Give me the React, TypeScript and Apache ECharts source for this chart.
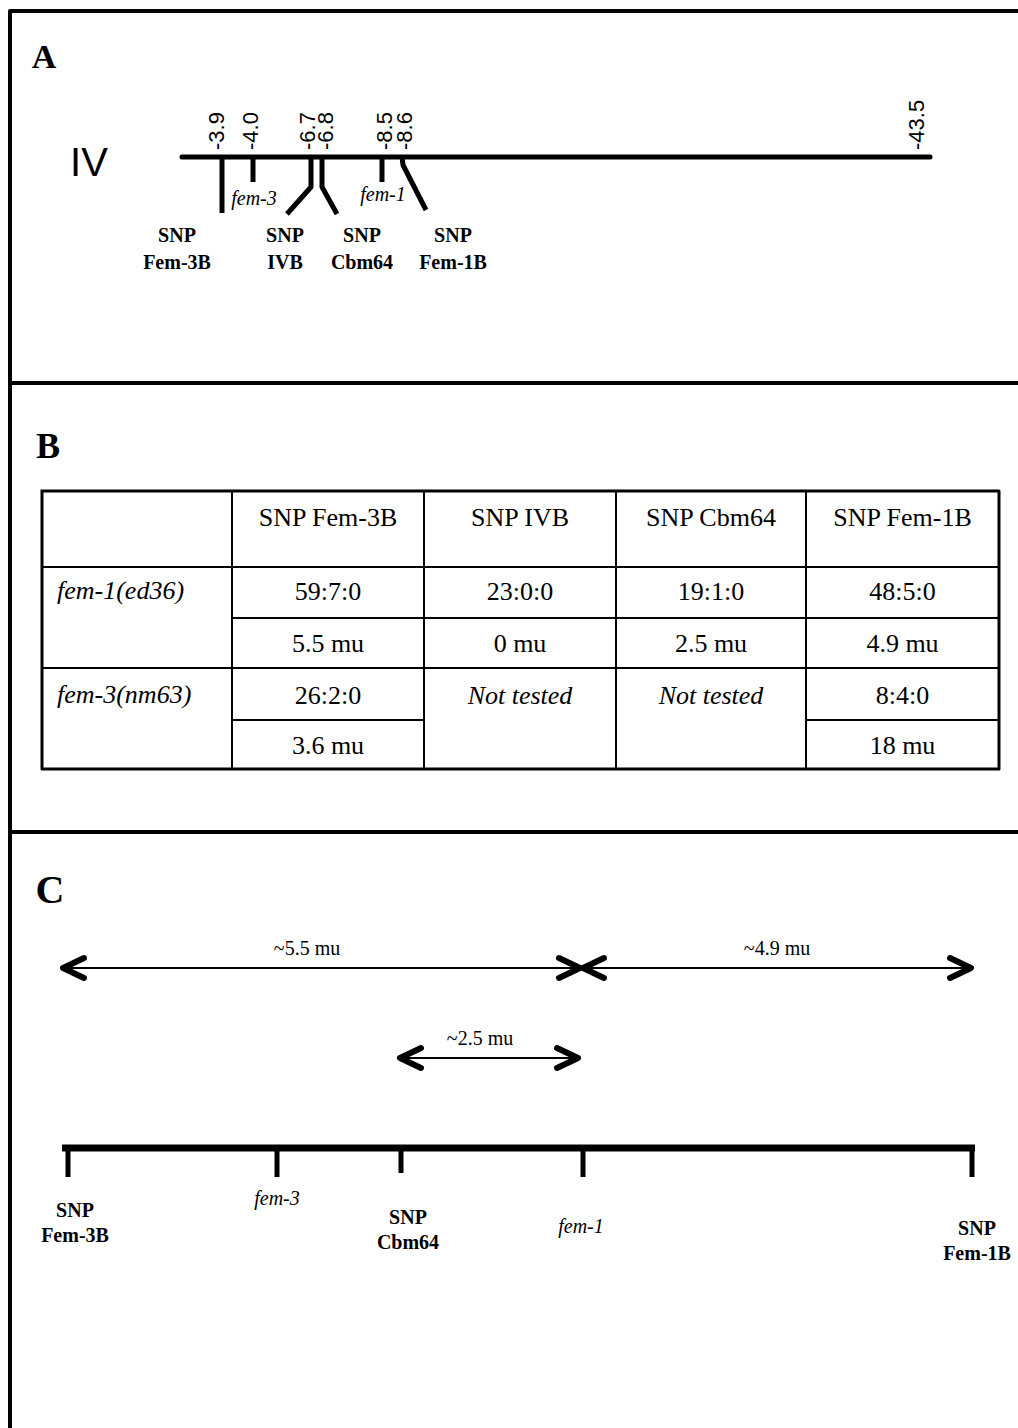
import React, { useEffect, useRef } from "react";
import * as echarts from "echarts";

// ---------------- data ----------------
const chromosomeName = "IV";
const mapPositionLabels = ["-3.9", "-4.0", "-6.7", "-6.8", "-8.5", "-8.6", "-43.5"];
const panelAMarkerNames = ["SNP\nFem-3B", "fem-3", "SNP\nIVB", "SNP\nCbm64", "fem-1", "SNP\nFem-1B"];
const panelAMarkerIsGene = [false, true, false, false, true, false];

const tableHeaders = ["SNP Fem-3B", "SNP IVB", "SNP Cbm64", "SNP Fem-1B"];
const tableRowLabels = ["fem-1(ed36)", "fem-3(nm63)"];
const fem1Ratios = ["59:7:0", "23:0:0", "19:1:0", "48:5:0"];
const fem1Distances = ["5.5 mu", "0 mu", "2.5 mu", "4.9 mu"];
const fem3Ratios = ["26:2:0", "Not tested", "Not tested", "8:4:0"];
const fem3Distances = ["3.6 mu", "", "", "18 mu"];

const intervalLabels = ["~5.5 mu", "~4.9 mu", "~2.5 mu"];
const panelCNames = ["SNP\nFem-3B", "fem-3", "SNP\nCbm64", "fem-1", "SNP\nFem-1B"];
const panelCIsGene = [false, true, false, true, false];

// ---------------- layout (schematic drawing units) ----------------
const W = 1018;
const H = 1428;
const SERIF = "'Liberation Serif', 'Times New Roman', serif";
const SANS = "'Liberation Sans', Arial, sans-serif";

const FRAME_X = 10;
const FRAME_TOP = 11;
const DIVIDERS = [383, 832];

const A_LINE = { x1: 182, x2: 930, y: 157 };
const A_TICK_X = [216, 250, 307, 325, 384, 404, 916];
const A_TICK_BASE = 150;
const A_MARKER_PATHS: number[][][] = [
  [[222, 157], [222, 213]],
  [[253, 157], [253, 182]],
  [[311, 157], [311, 187], [287, 214]],
  [[322, 157], [322, 187], [337, 214]],
  [[382, 157], [382, 182]],
  [[402, 157], [403, 165], [426, 210]],
];
const A_LABEL_POS = [[177, 248], [254, 198], [285, 248], [362, 248], [383, 194], [453, 248]];

const COL_EDGES = [42, 232, 424, 616, 806, 999];
const ROW_EDGES = [491, 567, 618, 668, 720, 769];
const HEADER_Y = 517;
const ROW_TEXT_Y = [591, 643, 695, 745];

const C_LINE = { x1: 62, x2: 975, y: 1148 };
const C_TICK_X = [68, 277, 401, 583, 972];
const C_TICK_END = [1177, 1177, 1173, 1177, 1177];
const C_LABEL_POS = [[75, 1222], [277, 1198], [408, 1229], [581, 1226], [977, 1240]];
const ARROWS = [
  { x1: 63, x2: 580, y: 968, lx: 307, ly: 948 },
  { x1: 583, x2: 971, y: 968, lx: 777, ly: 948 },
  { x1: 400, x2: 578, y: 1058, lx: 480, ly: 1038 },
];

// ---------------- helpers ----------------
const poly = (api: any, pts: number[][], lw: number, cap = "butt") => ({
  type: "polyline",
  shape: { points: pts.map((p) => api.coord(p)) },
  style: { stroke: "#000", fill: "none", lineWidth: lw, lineCap: cap, lineJoin: "round" },
});

const txt = (api: any, x: number, y: number, text: string, font: string, align = "center", extra: any = {}, rotation = 0) => {
  const [px, py] = api.coord([x, y]);
  return {
    type: "text",
    x: px,
    y: py,
    rotation,
    style: { text, font, fill: "#000", align, verticalAlign: "middle", ...extra },
  };
};

const markerFont = (isGene: boolean) =>
  isGene ? `italic 20px ${SERIF}` : `bold 20px ${SERIF}`;

// ---------------- render functions ----------------
const renderFrame = (_p: any, api: any) => {
  const children: any[] = [];
  children.push(poly(api, [[FRAME_X, H], [FRAME_X, FRAME_TOP], [W, FRAME_TOP]], 4, "square"));
  DIVIDERS.forEach((y) => children.push(poly(api, [[FRAME_X, y], [W, y]], 4)));
  children.push(txt(api, 44, 56, "A", `bold 34px ${SERIF}`));
  children.push(txt(api, 48, 446, "B", `bold 36px ${SERIF}`));
  children.push(txt(api, 50, 889, "C", `bold 40px ${SERIF}`));
  return { type: "group", children };
};

const renderPanelA = (_p: any, api: any) => {
  const children: any[] = [];
  children.push(txt(api, 89, 162, chromosomeName, `40px ${SANS}`));
  children.push(poly(api, [[A_LINE.x1, A_LINE.y], [A_LINE.x2, A_LINE.y]], 5, "round"));
  mapPositionLabels.forEach((lab, i) => {
    children.push(txt(api, A_TICK_X[i], A_TICK_BASE, lab, `22px ${SANS}`, "left", {}, Math.PI / 2));
  });
  A_MARKER_PATHS.forEach((pts) => children.push(poly(api, pts, 5)));
  panelAMarkerNames.forEach((name, i) => {
    children.push(
      txt(api, A_LABEL_POS[i][0], A_LABEL_POS[i][1], name, markerFont(panelAMarkerIsGene[i]), "center", { lineHeight: 27 })
    );
  });
  return { type: "group", children };
};

const renderPanelB = (_p: any, api: any) => {
  const children: any[] = [];
  const L = COL_EDGES[0];
  const R = COL_EDGES[COL_EDGES.length - 1];
  const T = ROW_EDGES[0];
  const B = ROW_EDGES[ROW_EDGES.length - 1];
  children.push(poly(api, [[L, T], [R, T], [R, B], [L, B], [L, T]], 3, "square"));
  COL_EDGES.slice(1, -1).forEach((x) => children.push(poly(api, [[x, T], [x, B]], 2)));
  children.push(poly(api, [[L, ROW_EDGES[1]], [R, ROW_EDGES[1]]], 2));
  children.push(poly(api, [[COL_EDGES[1], ROW_EDGES[2]], [R, ROW_EDGES[2]]], 2));
  children.push(poly(api, [[L, ROW_EDGES[3]], [R, ROW_EDGES[3]]], 2));
  fem3Distances.forEach((d, j) => {
    if (d !== "") children.push(poly(api, [[COL_EDGES[j + 1], ROW_EDGES[4]], [COL_EDGES[j + 2], ROW_EDGES[4]]], 2));
  });

  const cx = (j: number) => (COL_EDGES[j + 1] + COL_EDGES[j + 2]) / 2;
  const reg = `26px ${SERIF}`;
  const ital = `italic 26px ${SERIF}`;
  tableHeaders.forEach((h, j) => children.push(txt(api, cx(j), HEADER_Y, h, reg)));
  tableRowLabels.forEach((r, i) => children.push(txt(api, 57, ROW_TEXT_Y[i * 2] - 1, r, ital, "left")));
  fem1Ratios.forEach((v, j) => children.push(txt(api, cx(j), ROW_TEXT_Y[0], v, reg)));
  fem1Distances.forEach((v, j) => children.push(txt(api, cx(j), ROW_TEXT_Y[1], v, reg)));
  fem3Ratios.forEach((v, j) =>
    children.push(txt(api, cx(j), ROW_TEXT_Y[2], v, v === "Not tested" ? ital : reg))
  );
  fem3Distances.forEach((v, j) => {
    if (v !== "") children.push(txt(api, cx(j), ROW_TEXT_Y[3], v, reg));
  });
  return { type: "group", children };
};

const renderPanelC = (_p: any, api: any) => {
  const children: any[] = [];
  ARROWS.forEach((a, i) => {
    children.push(poly(api, [[a.x1 + 3, a.y], [a.x2 - 3, a.y]], 2));
    children.push(poly(api, [[a.x1 + 21, a.y - 10], [a.x1, a.y], [a.x1 + 21, a.y + 10]], 6, "round"));
    children.push(poly(api, [[a.x2 - 21, a.y - 10], [a.x2, a.y], [a.x2 - 21, a.y + 10]], 6, "round"));
    children.push(txt(api, a.lx, a.ly, intervalLabels[i], `20px ${SERIF}`));
  });
  children.push(poly(api, [[C_LINE.x1, C_LINE.y], [C_LINE.x2, C_LINE.y]], 7));
  C_TICK_X.forEach((x, i) => children.push(poly(api, [[x, C_LINE.y], [x, C_TICK_END[i]]], 5)));
  panelCNames.forEach((name, i) => {
    children.push(
      txt(api, C_LABEL_POS[i][0], C_LABEL_POS[i][1], name, markerFont(panelCIsGene[i]), "center", { lineHeight: 25 })
    );
  });
  return { type: "group", children };
};

const customSeries = (name: string, renderItem: any) => ({
  type: "custom",
  name,
  coordinateSystem: "cartesian2d",
  data: [[0, 0]],
  silent: true,
  clip: false,
  renderItem,
});

const option = {
  animation: false,
  backgroundColor: "#fff",
  grid: { left: 0, right: 0, top: 0, bottom: 0 },
  xAxis: { type: "value", min: 0, max: W, show: false },
  yAxis: { type: "value", min: 0, max: H, inverse: true, show: false },
  series: [
    customSeries("frame", renderFrame),
    customSeries("panelA", renderPanelA),
    customSeries("panelB", renderPanelB),
    customSeries("panelC", renderPanelC),
  ],
};

export default function App() {
  const ref = useRef<HTMLDivElement>(null);
  useEffect(() => {
    if (!ref.current) return;
    const chart = echarts.init(ref.current, null, { renderer: "svg" });
    chart.setOption(option as any);
    return () => chart.dispose();
  }, []);
  return (
    <div
      ref={ref}
      style={{ position: "absolute", left: 0, top: 0, width: W, height: H, background: "#fff" }}
    />
  );
}
